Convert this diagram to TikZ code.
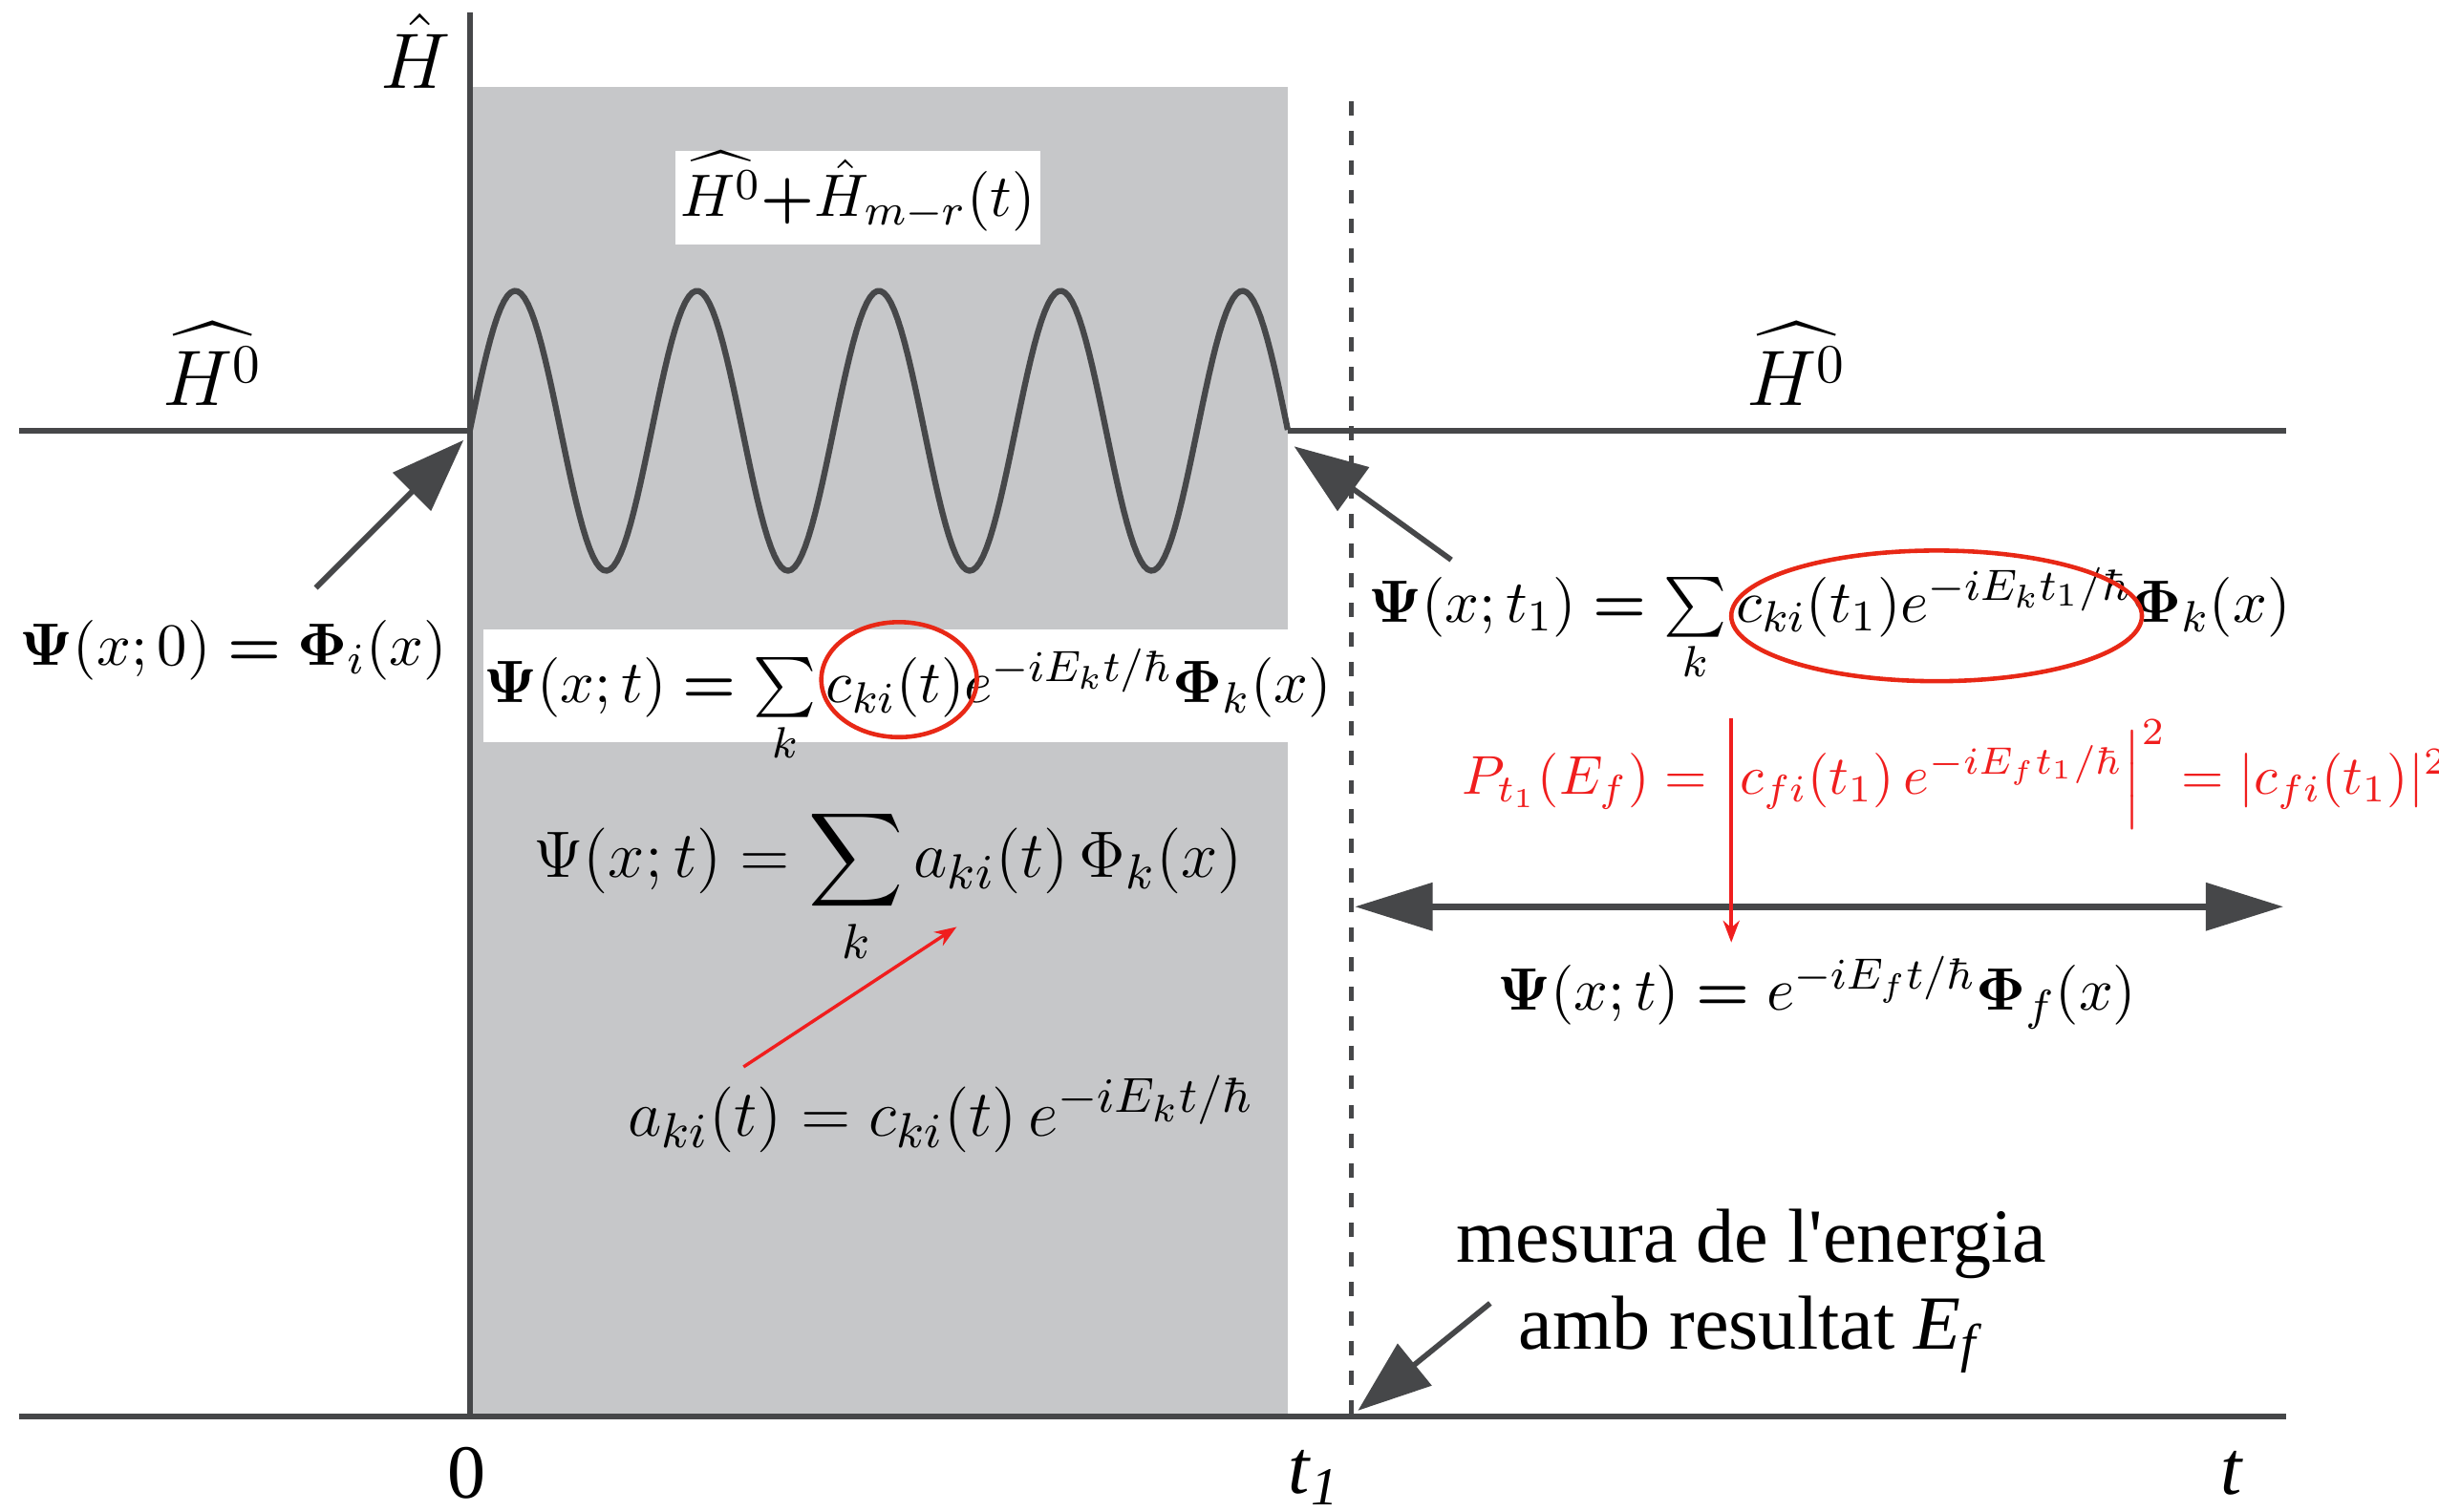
\documentclass[tikz,border=0pt]{standalone}
\usepackage[no-math]{fontspec}
\usepackage{amsmath,bm}
\usetikzlibrary{arrows.meta}
\newfontfamily\tms{Liberation Serif}[Ligatures=TeXOff]
\definecolor{ink}{RGB}{70,71,73}
\definecolor{pulsegray}{RGB}{198,199,201}
\definecolor{ringred}{RGB}{232,40,22}
\definecolor{note}{RGB}{240,30,30}

\begin{document}
\begin{tikzpicture}[x=1cm, y=-1cm,
  axis/.style={draw=ink, line width=1.1pt},
  wave/.style={draw=ink, line width=1.1pt, line join=round},
  cut/.style={draw=ink, dash pattern=on 2.6pt off 2.8pt, line width=0.9pt},
  pointer/.style={draw=ink, line width=1pt, -{Triangle[length=0.47cm,width=0.34cm]}},
  span/.style={draw=ink, line width=1.3pt, {Triangle[length=0.5cm,width=0.3cm]}-{Triangle[length=0.5cm,width=0.3cm]}},
  hint/.style={draw=note, line width=0.6pt, -{Stealth[length=4pt,width=3pt]}},
  ring/.style={draw=ringred, line width=0.8pt},
  tform/.style={font=\fontsize{11.2}{14}\selectfont, inner sep=1pt},
  hlabel/.style={font=\fontsize{14}{16}\selectfont, inner sep=1pt},
  cform/.style={font=\fontsize{13.2}{16}\selectfont, inner sep=1pt},
  rform/.style={font=\fontsize{9.6}{12}\selectfont, text=note, inner sep=1pt},
  plate/.style={fill=white, inner sep=0pt},
  words/.style={font=\tms\fontsize{14}{16}\selectfont, align=center, inner sep=1pt}
]
\useasboundingbox (0,0) rectangle (15.68,9.72);

% pulse window
\fill[pulsegray] (3.04,0.56) rectangle (8.28,9.11);

\coordinate (o) at (3.02,9.11);
\coordinate (w0) at (3.02,2.77);
\coordinate (w1) at (8.28,2.77);
\coordinate (m) at (8.69,9.11);

% axes and levels
\draw[axis] (0.12,9.11) -- (14.70,9.11);
\draw[axis] (3.02,0.08) -- (o);
\draw[axis] (0.12,2.77) -- (w0);
\draw[axis] (w1) -- (14.70,2.77);
\draw[wave] plot[domain=3.02:8.28, samples=240] (\x,{2.77-0.9*sin(360*(\x-3.02)/1.1689)});
\draw[cut] (8.69,0.65) -- (m);

\node[hlabel] (hax) at (2.67,0.33) {$\hat{H}$};
\node[hlabel] (hleft) at (1.37,2.34) {$\widehat{H^0}$};
\node[hlabel] (hright) at (11.55,2.34) {$\widehat{H^0}$};
\node[hlabel, font=\fontsize{11.2}{14}\selectfont, plate, inner xsep=1pt, text height=0.42cm, text depth=0.18cm] (pert) at (5.515,1.27)
  {$\widehat{H^0}{\bm{+}}\hat{H}_{m-r}(t)$};

\node[tform] (psi0) at (1.50,4.18) {$\bm{\Psi}(x;0)\bm{=}\bm{\Phi}_i(x)$};
\node[tform, plate, minimum width=5.45cm, text height=0.47cm, text depth=0.25cm] (psit) at (5.835,4.41)
  {$\bm{\Psi}(x;t)\bm{=}\sum\limits_k c_{ki}(t)e^{-iE_kt/\hbar}\bm{\Phi}_k(x)$};
\node[tform] (psit1) at (11.76,4.02)
  {$\bm{\Psi}(x;t_1)\bm{=}\sum\limits_k c_{ki}(t_1)e^{-iE_kt_1/\hbar}\bm{\Phi}_k(x)$};
\node[rform] (prob) at (12.57,4.98)
  {$P_{t_1}(E_f)=\Big|c_{fi}(t_1)\,e^{-iE_ft_1/\hbar}\Big|^2=|c_{fi}(t_1)|^2$};
\node[tform] (psif) at (11.68,6.38) {$\bm{\Psi}(x;t)\bm{=}e^{-iE_ft/\hbar}\bm{\Phi}_f(x)$};
\node[cform] (psia) at (5.71,5.70) {$\Psi(x;t)=\displaystyle\sum_k a_{ki}(t)\,\Phi_k(x)$};
\node[cform] (aki) at (6.05,7.16) {$a_{ki}(t)=c_{ki}(t)\,e^{-iE_kt/\hbar}$};
\node[words] (meas) at (11.26,8.30) {mesura de l'energia\\amb resultat \textit{E}\textsubscript{\textit{f}}};

\node[words] (zero) at (3.00,9.47) {0};
\node[words] (tone) at (8.45,9.50) {\textit{t}\textsubscript{\textit{1}}};
\node[words] (tend) at (14.35,9.47) {\textit{t}};

% marks on the coefficients
\draw[ring] (5.78,4.37) ellipse (0.50 and 0.37);
\draw[ring] (12.45,3.96) ellipse (1.32 and 0.42);

% pointers
\coordinate (p0) at (2.03,3.78);
\coordinate (q0) at (2.98,2.83);
\coordinate (p1) at (9.33,3.60);
\coordinate (q1) at (8.32,2.87);
\coordinate (p2) at (9.58,8.38);
\coordinate (q2) at (8.73,9.07);
\coordinate (sl) at (8.71,5.83);
\coordinate (sr) at (14.68,5.83);
\coordinate (r0) at (11.13,4.62);
\coordinate (r1) at (11.13,6.06);
\coordinate (a0) at (4.78,6.86);
\coordinate (a1) at (6.15,5.96);
\draw[pointer] (p0) -- (q0);
\draw[pointer] (p1) -- (q1);
\draw[pointer] (p2) -- (q2);
\draw[span] (sl) -- (sr);
\draw[hint] (r0) -- (r1);
\draw[hint] (a0) -- (a1);
\end{tikzpicture}
\end{document}
